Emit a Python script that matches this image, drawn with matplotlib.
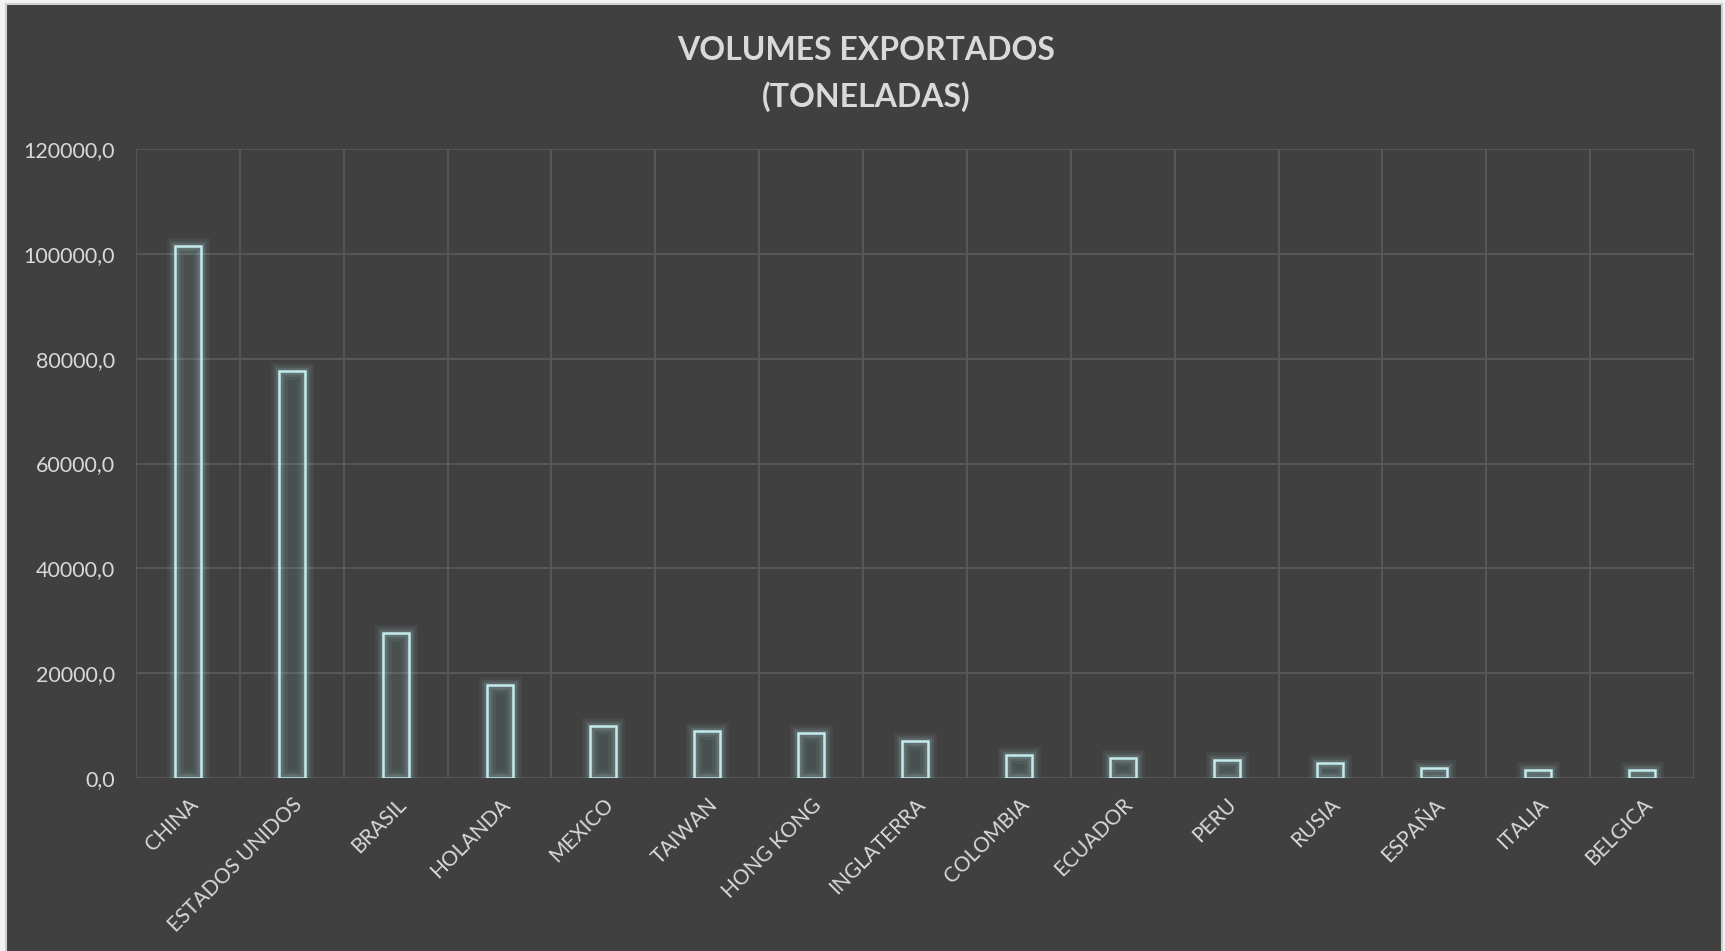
import matplotlib.pyplot as plt
from matplotlib.patches import Rectangle
from matplotlib.ticker import FuncFormatter, MultipleLocator

# ── Data ───────────────────────────────────────────────
paises = ["CHINA", "ESTADOS UNIDOS", "BRASIL", "HOLANDA", "MEXICO", "TAIWAN",
          "HONG KONG", "INGLATERRA", "COLOMBIA", "ECUADOR", "PERU", "RUSIA",
          "ESPAÑA", "ITALIA", "BELGICA"]
toneladas = [101500, 77700, 27700, 17700, 9850, 8900, 8500, 7000,
             4300, 3750, 3400, 2800, 1900, 1550, 1450]

bg = "#404040"
txt = "#d9d9d9"
grid_c = "#595959"
edge = "#c4ecee"

plt.rcParams["font.family"] = ["Lato", "DejaVu Sans"]

fig = plt.figure(figsize=(17.25, 9.51), dpi=100, facecolor="#f2f2f2")
fig.patches.append(Rectangle((6 / 1725, -0.01), 1716 / 1725, 1 - 4 / 951 + 0.01,
                             transform=fig.transFigure, facecolor=bg,
                             edgecolor="#d0d0d0", lw=1.5, zorder=-5))
ax = fig.add_axes([136 / 1725, 1 - 778 / 951, 1558 / 1725, 629 / 951], zorder=2)
ax.set_facecolor(bg)

x = range(len(paises))
w = 0.25
# glow
for lw, a in [(12, 0.06), (8, 0.08), (5, 0.12)]:
    ax.bar(x, toneladas, width=w, facecolor="none", edgecolor=edge,
           linewidth=lw, alpha=a, zorder=3)
ax.bar(x, toneladas, width=w, facecolor="#8fc4c6", alpha=0.12, edgecolor="none", zorder=3)
ax.bar(x, toneladas, width=w, facecolor="none", edgecolor=edge, linewidth=1.8, zorder=4)

ax.set_xlim(-0.5, len(paises) - 0.5)
ax.set_ylim(0, 120000)
ax.yaxis.set_major_locator(MultipleLocator(20000))
ax.yaxis.set_major_formatter(FuncFormatter(lambda v, p: f"{v:.1f}".replace(".", ",")))
ax.set_xticks(list(x))
ax.set_xticklabels(paises, rotation=45, ha="right", rotation_mode="anchor")
ax.set_xticks([i - 0.5 for i in range(len(paises) + 1)], minor=True)

ax.grid(True, which="major", axis="y", color=grid_c, lw=1.3, zorder=1)
ax.grid(True, which="minor", axis="x", color=grid_c, lw=1.3, zorder=1)
ax.set_axisbelow(True)
ax.tick_params(axis="both", which="both", length=0, colors=txt)
ax.tick_params(axis="y", pad=15, labelsize=15.5)
ax.tick_params(axis="x", pad=12, labelsize=15)
for s in ax.spines.values():
    s.set_visible(False)

fig.text(0.502, 1 - 74 / 951, "VOLUMES EXPORTADOS\n(TONELADAS)", ha="center",
         va="center", color=txt, fontsize=23, fontweight="bold", linespacing=1.6)

fig.savefig("out.png", dpi=100, facecolor=fig.get_facecolor())
